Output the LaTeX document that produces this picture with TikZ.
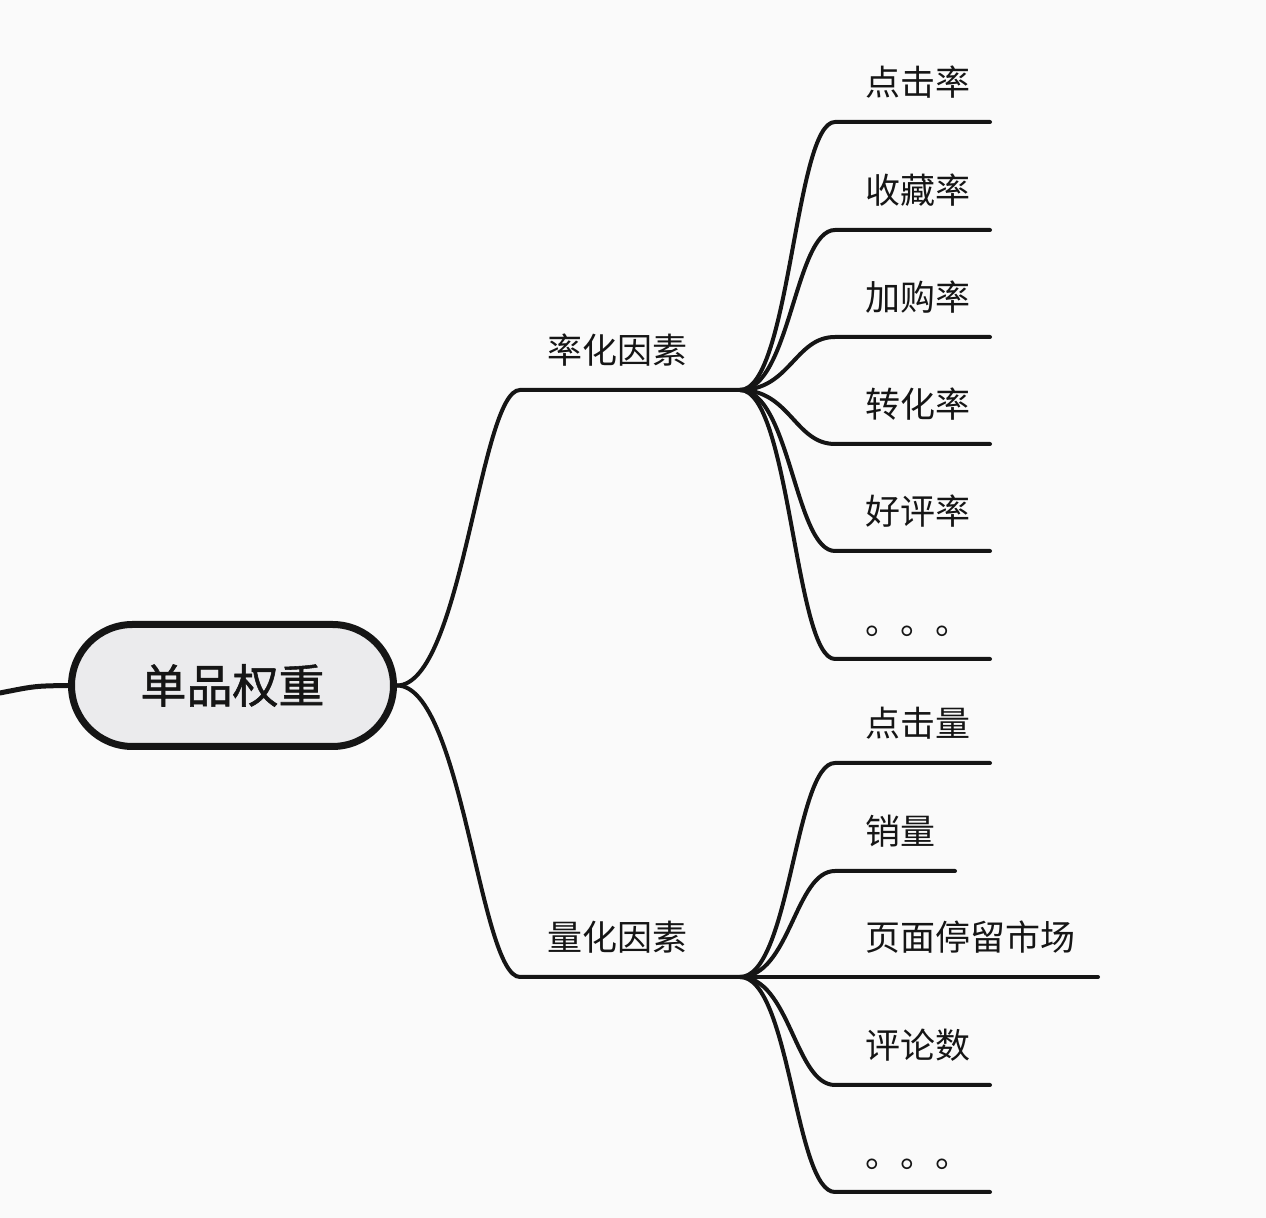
\documentclass[tikz,border=0pt]{standalone}
\usepackage{fontspec}
\newfontfamily\cjk{Noto Sans CJK SC}
\newfontfamily\cjkroot[FakeBold=1.2]{Noto Sans CJK SC}
\usetikzlibrary{positioning}
\definecolor{pillgray}{HTML}{EBEBED}
\definecolor{ink}{HTML}{151515}
\definecolor{paper}{HTML}{FAFAFA}

\tikzset{
  lbl/.style={font=\cjk\fontsize{17.5}{20}\selectfont, text=ink, inner sep=0pt, anchor=west},
  wire/.style={draw=ink, line width=2pt, line cap=round},
}

\begin{document}
\begin{tikzpicture}[x=0.5pt, y=-0.5pt]
  \fill[paper] (0,0) rectangle (1266,1218);
  \useasboundingbox (0,0) rectangle (1266,1218);

  % root
  \node[draw=ink, line width=3.5pt, fill=pillgray, rounded corners=30.5pt,
        minimum width=161pt, minimum height=61pt, inner sep=0pt,
        font=\cjkroot\fontsize{23}{26}\selectfont, text=ink] (root) at (232.5,685.5) {单品权重};
  \coordinate (edge) at (0,693);
  \draw[wire, line width=2.5pt] (edge) .. controls (35,686) .. (root.west);

  % branches
  \coordinate (ratebend) at (520,390);
  \coordinate (ratefan) at (740,390);
  \coordinate (qtybend) at (520,977);
  \coordinate (qtyfan) at (740,977);
  \node[lbl] (rate) at (547,350) {率化因素};
  \node[lbl] (qty) at (547,937) {量化因素};
  \draw[wire] (root.east) .. controls +(65,0) and +(-40,0) .. (ratebend) -- (ratefan);
  \draw[wire] (root.east) .. controls +(65,0) and +(-40,0) .. (qtybend) -- (qtyfan);

  % leaves of the rate branch
  \foreach \y/\txt/\up [count=\i] in {122/点击率/40, 230/收藏率/40, 337/加购率/40, 444/转化率/40, 551/好评率/40, 659/。。。/28} {
    \coordinate (r\i) at (835,\y);
    \coordinate (re\i) at (990,\y);
    \node[lbl] (rl\i) at (865,{\y-\up}) {\txt};
    \draw[wire] (ratefan) .. controls +(50,0) and +(-40,0) .. (r\i) -- (re\i);
  }

  % leaves of the quantity branch
  \foreach \y/\txt/\e/\up [count=\i] in {763/点击量/990/40, 871/销量/955/40, 977/页面停留市场/1098/40, 1085/评论数/990/40, 1192/。。。/990/28} {
    \coordinate (q\i) at (835,\y);
    \coordinate (qe\i) at (\e,\y);
    \node[lbl] (ql\i) at (865,{\y-\up}) {\txt};
    \draw[wire] (qtyfan) .. controls +(50,0) and +(-40,0) .. (q\i) -- (qe\i);
  }
\end{tikzpicture}
\end{document}
